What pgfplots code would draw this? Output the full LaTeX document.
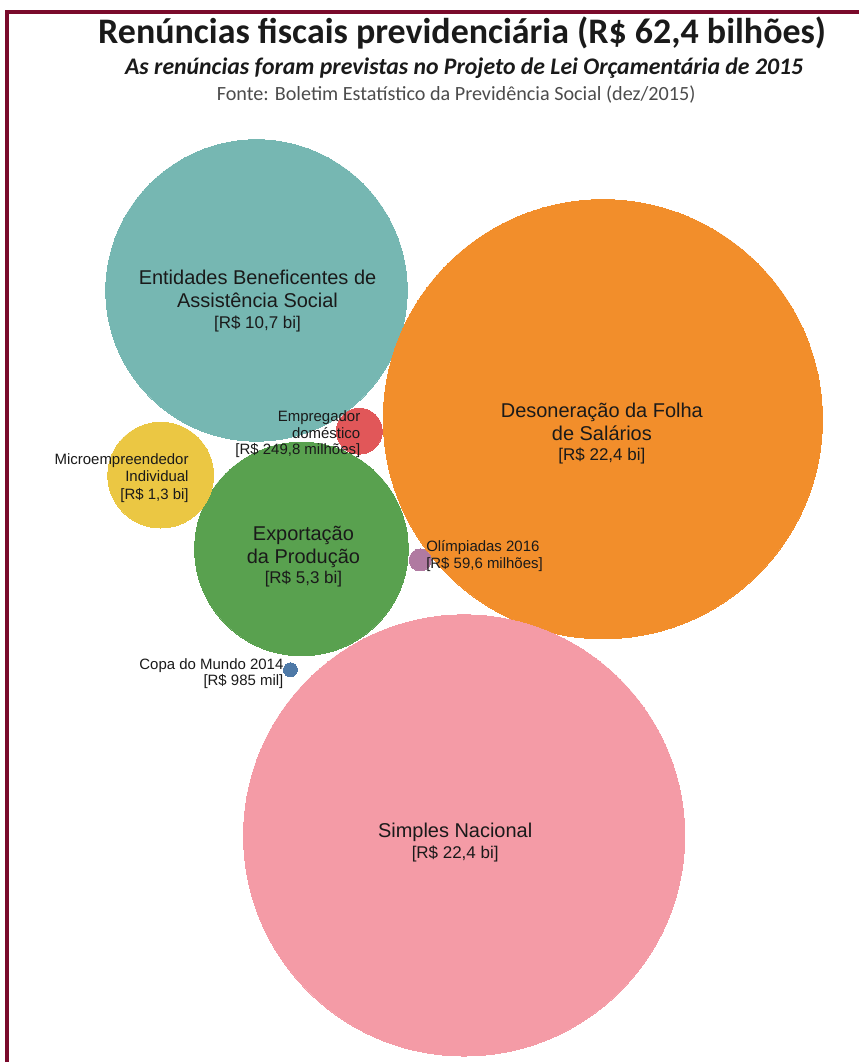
\documentclass[border=0pt]{standalone}
\usepackage{pgfplots}
\pgfplotsset{compat=1.18}
\usepackage{fontspec}
\setmainfont{Carlito}
\newfontfamily\lab{Liberation Sans}
\definecolor{bord}{HTML}{7A0A2B}
\definecolor{cteal}{HTML}{76B7B2}
\definecolor{corange}{HTML}{F28E2B}
\definecolor{cpink}{HTML}{F49BA6}
\definecolor{cgreen}{HTML}{59A14F}
\definecolor{cyellow}{HTML}{EBC743}
\definecolor{cred}{HTML}{E15759}
\definecolor{cpurple}{HTML}{B07AA1}
\definecolor{cblue}{HTML}{4E79A7}
\definecolor{txt}{HTML}{1A1A1A}
\pgfplotsset{bub/.style={only marks, mark=*, color=#1, mark options={draw=#1, fill=#1, line width=0pt}}}
\begin{document}
\begin{tikzpicture}
\begin{axis}[scale only axis, width=430.5pt, height=532pt,
  xmin=0, xmax=861, ymin=0, ymax=1064, y dir=reverse,
  hide axis, clip=false]
\path (rel axis cs:0,0) rectangle (rel axis cs:1,1);
\draw[bord, line width=2pt] (axis cs:7,1064) -- (axis cs:7,12) -- (axis cs:861,12);
% bubbles (pixel coordinates, radius in pt = px/2)
\addplot[bub=cteal, mark size=75.5pt] coordinates {(257,291)};
\addplot[bub=corange, mark size=110pt] coordinates {(604,420)};
\addplot[bub=cpink, mark size=110.5pt] coordinates {(465,837)};
\addplot[bub=cgreen, mark size=53.5pt] coordinates {(302,550)};
\addplot[bub=cyellow, mark size=26.5pt] coordinates {(161,476)};
\addplot[bub=cred, mark size=11.5pt] coordinates {(360,432)};
\addplot[bub=cpurple, mark size=5.5pt] coordinates {(421,561)};
\addplot[bub=cblue, mark size=3.5pt] coordinates {(291,671)};
\coordinate (t1) at (axis cs:463,33);
\coordinate (t2) at (axis cs:465,68);
\coordinate (t3) at (axis cs:457,95);
\coordinate (l1) at (axis cs:258,289);
\coordinate (b1) at (axis cs:258,325);
\coordinate (l2) at (axis cs:603,423);
\coordinate (b2) at (axis cs:603,457);
\coordinate (l3) at (axis cs:456,834);
\coordinate (b3) at (axis cs:456,856);
\coordinate (l4) at (axis cs:304,548);
\coordinate (b4) at (axis cs:304,580);
\coordinate (s1) at (axis cs:196,479);
\coordinate (s2) at (axis cs:368,435);
\coordinate (s3) at (axis cs:420,557);
\coordinate (s4) at (axis cs:291,675);
\end{axis}
% titles
\node[anchor=center, font=\bfseries\fontsize{18}{21}\selectfont, text=txt] at (t1) {Renúncias fiscais previdenciária (R\$ 62,4 bilhões)};
\node[anchor=center, font=\bfseries\itshape\fontsize{11.9}{14}\selectfont, text=txt] at (t2) {As renúncias foram previstas no Projeto de Lei Orçamentária de 2015};
\node[anchor=center, font=\fontsize{10.1}{12}\selectfont, text=black!70] at (t3) {Fonte: Boletim Estatístico da Previdência Social (dez/2015)};
% bubble labels
\node[align=center, font=\lab\fontsize{10}{11.5}\selectfont, text=txt] at (l1) {Entidades Beneficentes de\\Assistência Social};
\node[font=\lab\fontsize{8.5}{10}\selectfont, text=txt] at (b1) {[R\$ 10,7 bi]};
\node[align=center, font=\lab\fontsize{10}{11.5}\selectfont, text=txt] at (l2) {Desoneração da Folha\\de Salários};
\node[font=\lab\fontsize{8.5}{10}\selectfont, text=txt] at (b2) {[R\$ 22,4 bi]};
\node[align=center, font=\lab\fontsize{10}{11.5}\selectfont, text=txt] at (l3) {Simples Nacional};
\node[font=\lab\fontsize{8.5}{10}\selectfont, text=txt] at (b3) {[R\$ 22,4 bi]};
\node[align=center, font=\lab\fontsize{10}{11.5}\selectfont, text=txt] at (l4) {Exportação\\da Produção};
\node[font=\lab\fontsize{8.5}{10}\selectfont, text=txt] at (b4) {[R\$ 5,3 bi]};
\node[align=right, anchor=east, font=\lab\fontsize{7.5}{8.8}\selectfont, text=txt] at (s1) {Microempreendedor\\Individual\\{}[R\$ 1,3 bi]};
\node[align=right, anchor=east, font=\lab\fontsize{7.5}{8.4}\selectfont, text=txt] at (s2) {Empregador\\doméstico\\{}[R\$ 249,8 milhões]};
\node[align=left, anchor=west, font=\lab\fontsize{7.5}{8.4}\selectfont, text=txt] at (s3) {Olímpiadas 2016\\{}[R\$ 59,6 milhões]};
\node[align=right, anchor=east, font=\lab\fontsize{7.5}{8.4}\selectfont, text=txt] at (s4) {Copa do Mundo 2014\\{}[R\$ 985 mil]};
\end{tikzpicture}
\end{document}
